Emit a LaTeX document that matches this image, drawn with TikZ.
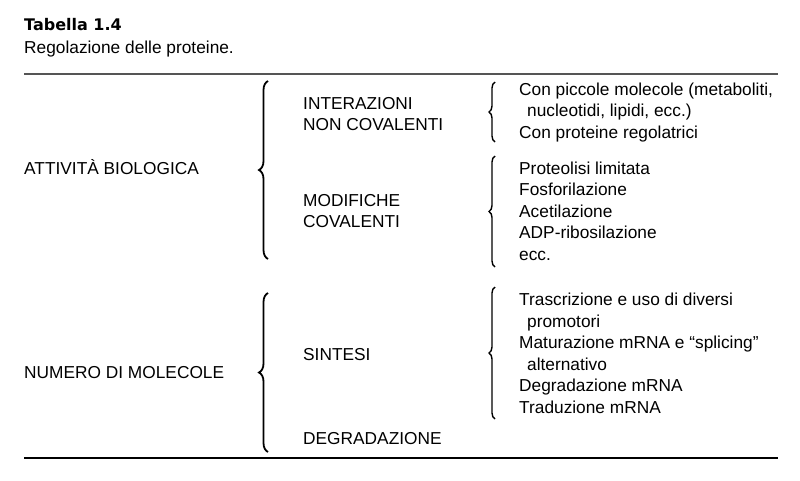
\documentclass[tikz,border=0pt]{standalone}
\usepackage{fontspec}
\setmainfont{Liberation Sans}
\newfontfamily\titlefont{DejaVu Sans}
\usetikzlibrary{decorations.pathreplacing}
\definecolor{rulegray}{HTML}{555555}

\begin{document}
\begin{tikzpicture}[x=1pt, y=-1pt,
  lbl/.style={anchor=base west, align=left, inner sep=0pt, font=\fontsize{17.3}{21.5}\selectfont},
  mid/.style={lbl, font=\fontsize{17.3}{20.5}\selectfont},
  bigbrace/.style={decorate, decoration={brace, amplitude=9pt}, line width=1.8pt},
  smallbrace/.style={decorate, decoration={brace, amplitude=6pt}, line width=1.4pt}]
\useasboundingbox (0,0) rectangle (800,480);
% titolo
\node[lbl, font=\titlefont\fontsize{16}{20}\selectfont\bfseries] (title) at (24,30) {Tabella 1.4};
\node[lbl] (subtitle) at (24,53) {Regolazione delle proteine.};
\draw[rulegray, line width=2pt] (24,74) -- (778,74);
\draw[line width=1.2pt] (24,458) -- (778,458);
% prima colonna
\node[lbl] (attivita) at (24,174) {ATTIVITÀ BIOLOGICA};
\node[lbl] (numero) at (24,378) {NUMERO DI MOLECOLE};
\draw[bigbrace] (268,259) -- (268,81);
\draw[bigbrace] (268,452) -- (268,293);
% seconda colonna (base = ultima riga)
\node[mid] (interazioni) at (303,130) {INTERAZIONI\\NON COVALENTI};
\node[mid] (modifiche) at (303,227) {MODIFICHE\\COVALENTI};
\node[mid] (sintesi) at (303,360) {SINTESI};
\node[mid] (degradazione) at (303,444) {DEGRADAZIONE};
\draw[smallbrace] (495,142) -- (495,82);
\draw[smallbrace] (495,267) -- (495,156);
\draw[smallbrace] (495,419) -- (495,287);
% terza colonna
\node[lbl] (noncov) at (519,138) {Con piccole molecole (metaboliti,\\\hspace*{8pt}nucleotidi, lipidi, ecc.)\\Con proteine regolatrici};
\node[lbl] (cov) at (519,260) {Proteolisi limitata\\Fosforilazione\\Acetilazione\\ADP-ribosilazione\\ecc.};
\node[lbl] (sint) at (519,413) {Trascrizione e uso di diversi\\\hspace*{8pt}promotori\\Maturazione mRNA e “splicing”\\\hspace*{8pt}alternativo\\Degradazione mRNA\\Traduzione mRNA};
\end{tikzpicture}
\end{document}
